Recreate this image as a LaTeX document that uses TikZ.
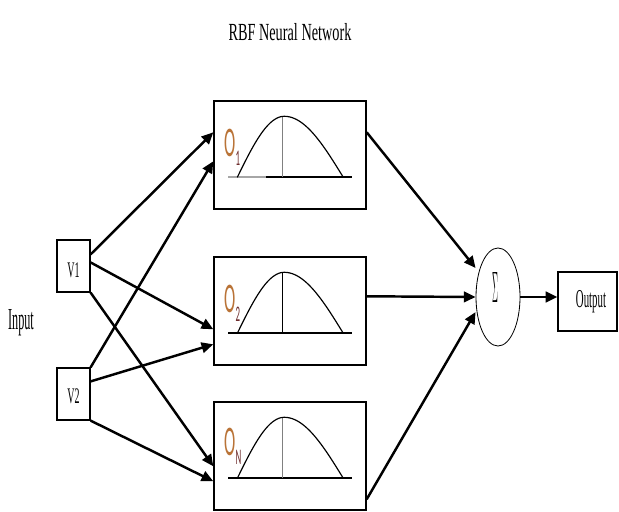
\documentclass[tikz,border=0pt]{standalone}
\usepackage{fontspec}
\usepackage{graphicx}
\setmainfont{Liberation Serif}
\newfontfamily\carl{Carlito}
\usetikzlibrary{calc,arrows.meta,shapes.geometric}
\definecolor{olab}{RGB}{185,115,55}
\definecolor{osub}{RGB}{110,45,45}
\newcommand\condtxt[3]{\scalebox{#1}[1]{\fontsize{#2}{#2}\selectfont #3}}
\newcommand\olabel[1]{\scalebox{0.4}[1]{\carl\fontsize{36}{36}\selectfont\textcolor{olab}{O}\raisebox{-0.2em}{\fontsize{19}{19}\selectfont\textcolor{osub}{#1}}}}
\begin{document}
\begin{tikzpicture}[x=0.03cm,y=-0.03cm,
  txt/.style={inner sep=0pt},
  obox/.style={draw, line width=1.2pt, minimum width=4.56cm, minimum height=3.24cm, inner sep=0pt},
  vbox/.style={draw, line width=1pt, minimum width=0.99cm, minimum height=1.56cm, inner sep=0pt},
  conn/.style={line width=2.1pt, -{Triangle[length=10pt,width=9pt]}},
  base/.style={line width=1.4pt},
  bell/.style={line width=1pt},
  mid/.style={line width=0.8pt}
]
\useasboundingbox (0,0) rectangle (619,512);

% title and input
\node[txt] (title) at (290,32) {\condtxt{0.58}{21}{RBF Neural Network}};
\node[txt] (input) at (21,323) {\condtxt{0.4}{26}{Input}};

% input boxes
\node[vbox] (V1) at (73.5,266) {};
\node[vbox] (V2) at (73.5,394) {};
\node[txt] (V1t) at ($(V1.center)+(0,4)$) {\condtxt{0.45}{19}{V1}};
\node[txt] (V2t) at ($(V2.center)+(0,2)$) {\condtxt{0.45}{19}{V2}};

% hidden boxes
\node[obox] (O1) at (290,155) {};
\node[obox] (O2) at (290,311) {};
\node[obox] (ON) at (290,456) {};

% bell curves
\foreach \b/\vc/\gl in {O1/gray/1, O2/black/0, ON/gray/0}{
  \begin{scope}[shift={(\b.north west)}]
    \draw[base] (15,77) -- (139,77);
    \ifnum\gl=1 \draw[base, gray!70] (15,77) -- (53,77); \fi
    \draw[mid, \vc] (69,17) -- (69,77);
    \draw[bell] plot[domain=0:90,samples=25] ({24+47*\x/90},{77-61*sin(\x)})
      -- plot[domain=0:90,samples=25] ({71+59*\x/90},{16+61*(1-cos(\x))});
  \end{scope}
}
\node[txt, anchor=north west] (L1) at ($(O1.north west)+(11,29)$) {\olabel{1}};
\node[txt, anchor=north west] (L2) at ($(O2.north west)+(11,29)$) {\olabel{2}};
\node[txt, anchor=north west] (LN) at ($(ON.north west)+(11,27)$) {\olabel{N}};

% summation and output
\node[draw, ellipse, line width=0.7pt, minimum width=1.32cm, minimum height=2.94cm, inner sep=0pt] (Sig) at (498,297) {};
\node[txt] (sigtxt) at (495,287) {\scalebox{0.7}[3.75]{$\Sigma$}};
\node[draw, line width=1pt, minimum width=1.77cm, minimum height=1.77cm, inner sep=0pt] (Out) at (587.5,301.5) {};
\node[txt] (outtxt) at (591,302) {\condtxt{0.42}{22}{Output}};

% connectors input -> hidden
\draw[conn] ($(V1.north east)+(0,15)$) -- ($(O1.north west)+(0,32)$);
\draw[conn] (V2.north east) -- ($(O1.north west)+(0,61)$);
\draw[conn] ($(V1.north east)+(0,23)$) -- ($(O2.north west)+(0,73)$);
\draw[conn] ($(V2.north east)+(0,14)$) -- ($(O2.north west)+(0,88)$);
\draw[conn] (V1.south east) -- ($(ON.north west)+(0,65)$);
\draw[conn] (V2.south east) -- ($(ON.north west)+(0,80)$);

% hidden -> sum
\draw[conn] ($(O1.north east)+(0,32)$) -- ($(Sig.west)+(0,-29)$);
\draw[conn] ($(O2.north east)+(0,40)$) -- (Sig.west);
\draw[conn] ($(ON.north east)+(0,98)$) -- ($(Sig.west)+(0,15)$);

% sum -> output
\draw[conn] (Sig.east) -- (Sig.east -| Out.west);
\end{tikzpicture}
\end{document}
